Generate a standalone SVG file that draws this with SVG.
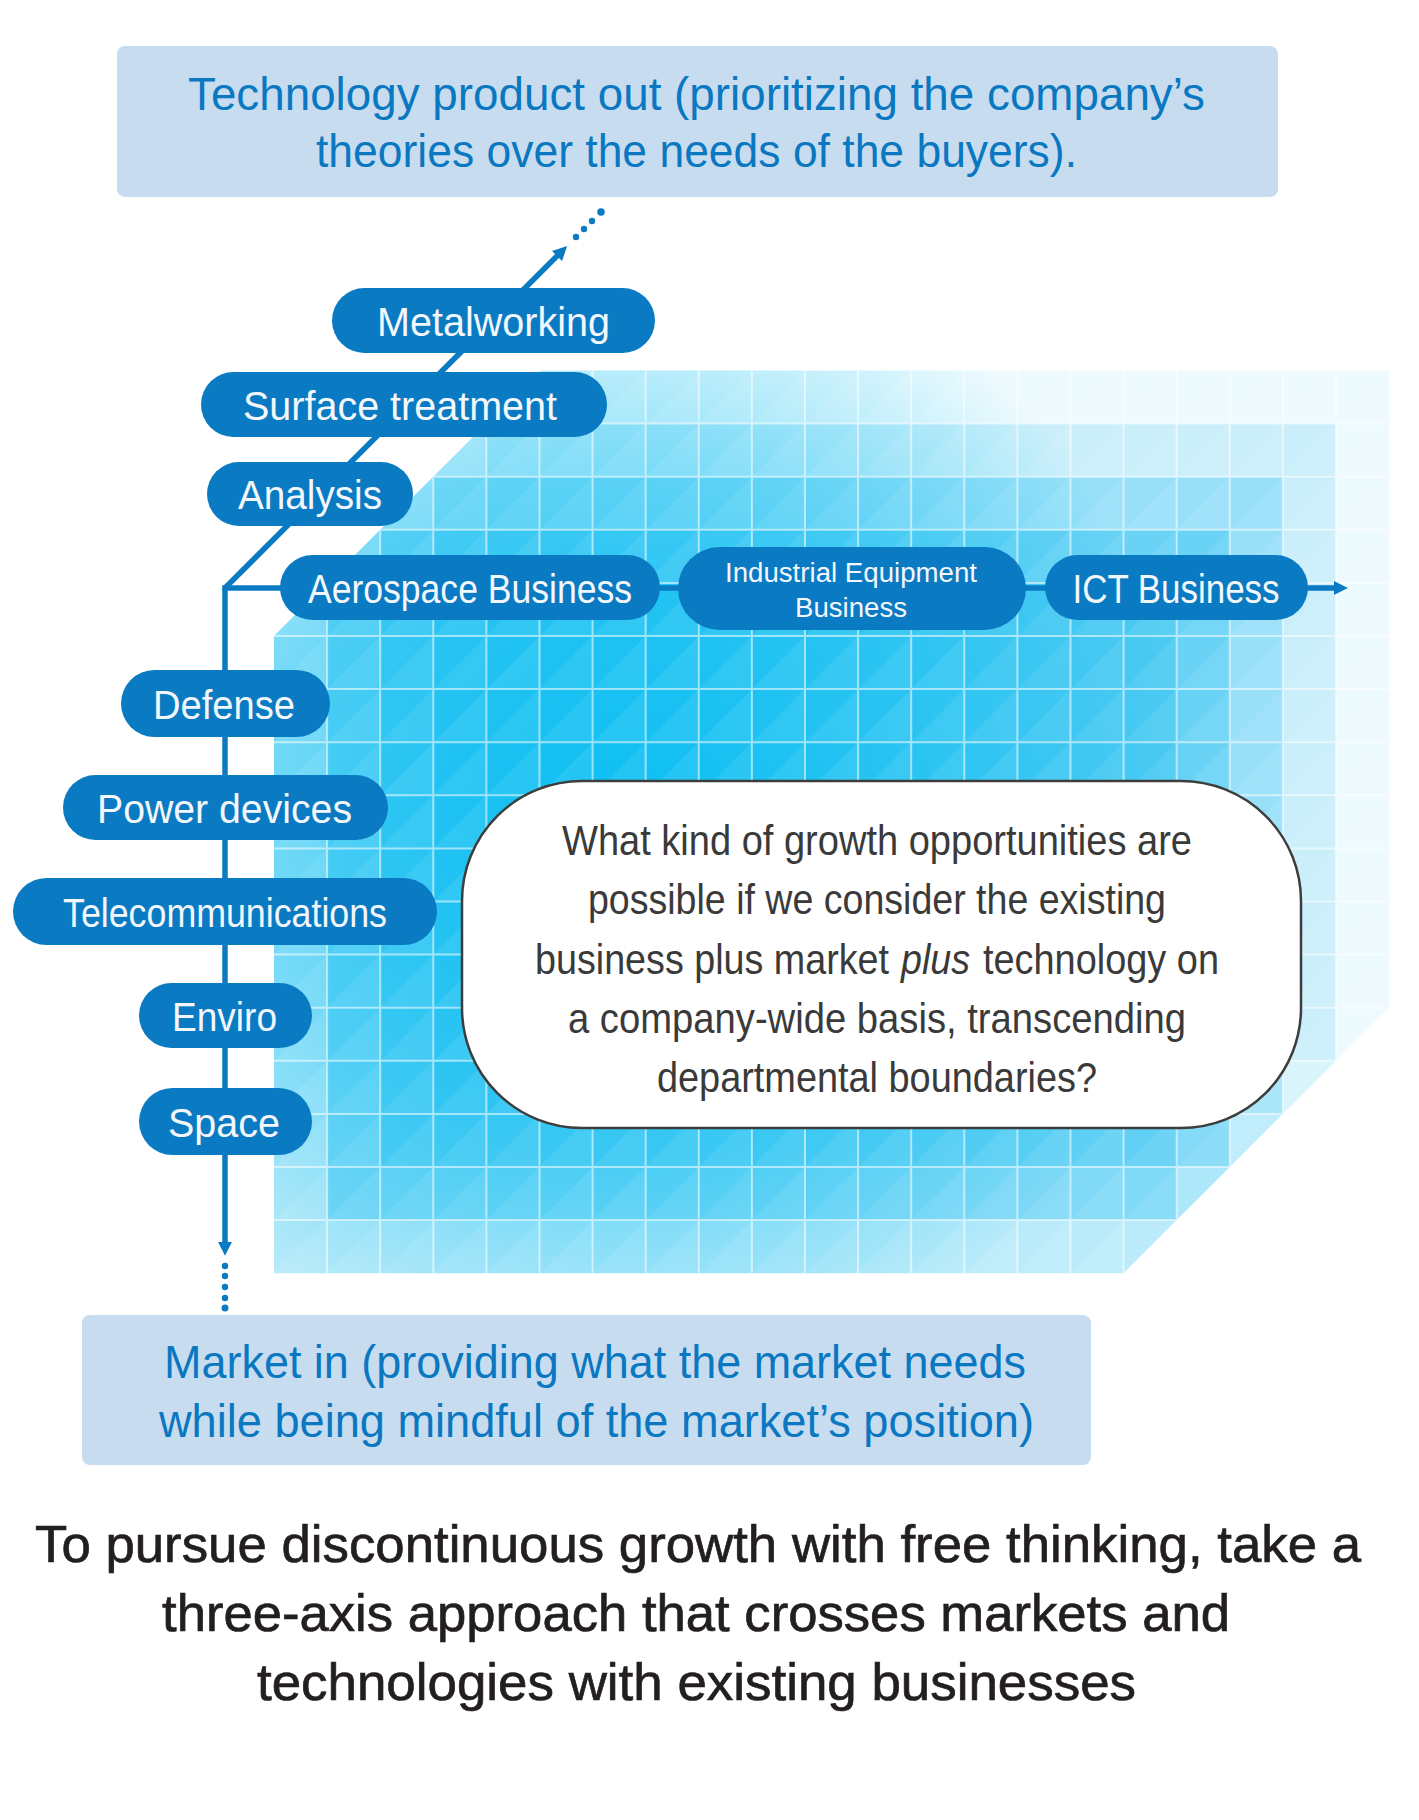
<svg xmlns="http://www.w3.org/2000/svg" width="1419" height="1820" viewBox="0 0 1419 1820">
<defs>
<style>
.pill{fill:#0a7bc3}
.pt{font-family:'Liberation Sans',Arial,sans-serif;font-size:40px;fill:#f3f7fb;text-anchor:middle}
.pts{font-family:'Liberation Sans',Arial,sans-serif;font-size:27px;fill:#f3f7fb;text-anchor:middle}
.ax{stroke:#0a7bc3;stroke-width:5.5;fill:none}
.dot{fill:#0a7bc3}
.box{fill:#c8dcf0}
.bt{font-family:'Liberation Sans',Arial,sans-serif;font-size:47px;fill:#0a78c1;text-anchor:middle}
.qt{font-family:'Liberation Sans',Arial,sans-serif;font-size:38px;fill:#3a3a3a;text-anchor:middle}
.qs{font-family:'Liberation Sans',Arial,sans-serif;font-size:38px;fill:#3a3a3a}
.cap{font-family:'Liberation Sans',Arial,sans-serif;font-size:52.5px;fill:#231f20;stroke:#231f20;stroke-width:0.7;text-anchor:middle}
.hx{fill:#05b5ee}
.gl{stroke:#ffffff;stroke-width:2;stroke-opacity:0.55;fill:none}
</style>
<radialGradient id="glow" cx="620" cy="820" r="580" gradientUnits="userSpaceOnUse">
<stop offset="0" stop-color="#00bdf2" stop-opacity="0.85"/>
<stop offset="0.6" stop-color="#00bdf2" stop-opacity="0.4"/>
<stop offset="1" stop-color="#00bdf2" stop-opacity="0"/>
</radialGradient>
<clipPath id="hull"><polygon points="274,636 539.5,370.5 1389.1,370.5 1389.1,1007.7 1123.6,1273.2 274,1273.2"/></clipPath>
<pattern id="tri" patternUnits="userSpaceOnUse" x="274" y="636" width="53.1" height="53.1"><path d="M53.1,0 L53.1,53.1 L0,53.1Z" fill="#ffffff" fill-opacity="0.08"/></pattern>
<marker id="ah" viewBox="0 0 10 10" refX="1" refY="5" markerWidth="2.6" markerHeight="2.6" orient="auto"><path d="M0,0 L10,5 L0,10Z" fill="#0a7bc3"/></marker>
</defs>
<rect width="1419" height="1820" fill="#ffffff"/>

<g id="grid">
<polygon class="hx" fill-opacity="0.07" points="486.4,423.6 539.5,370.5 1389.1,370.5 1389.1,1007.7 1336,1060.8 486.4,1060.8"/>
<polygon class="hx" fill-opacity="0.15" points="433.3,476.7 486.4,423.6 1336,423.6 1336,1060.8 1282.9,1113.9 433.3,1113.9"/>
<polygon class="hx" fill-opacity="0.25" points="380.2,529.8 433.3,476.7 1282.9,476.7 1282.9,1113.9 1229.8,1167 380.2,1167"/>
<polygon class="hx" fill-opacity="0.32" points="327.1,582.9 380.2,529.8 1229.8,529.8 1229.8,1167 1176.7,1220.1 327.1,1220.1"/>
<polygon class="hx" fill-opacity="0.27" points="274,636 327.1,582.9 1176.7,582.9 1176.7,1220.1 1123.6,1273.2 274,1273.2"/>
<g clip-path="url(#hull)">
<rect x="274" y="370" width="1116" height="904" fill="url(#glow)"/>
<rect x="274" y="370" width="1116" height="904" fill="url(#tri)"/>
<path class="gl" d="M327.1,370V1274M380.2,370V1274M433.3,370V1274M486.4,370V1274M539.5,370V1274M592.6,370V1274M645.7,370V1274M698.8,370V1274M751.9,370V1274M805,370V1274M858.1,370V1274M911.2,370V1274M964.3,370V1274M1017.4,370V1274M1070.5,370V1274M1123.6,370V1274M1176.7,370V1274M1229.8,370V1274M1282.9,370V1274M1336,370V1274M274,423.6H1390M274,476.7H1390M274,529.8H1390M274,582.9H1390M274,636H1390M274,689.1H1390M274,742.2H1390M274,795.3H1390M274,848.4H1390M274,901.5H1390M274,954.6H1390M274,1007.7H1390M274,1060.8H1390M274,1113.9H1390M274,1167H1390M274,1220.1H1390"/>
</g>
</g>

<g id="top-box">
<rect class="box" x="117" y="46" width="1161" height="151" rx="8"/>
<text class="bt" x="696.5" y="110" textLength="1017" lengthAdjust="spacingAndGlyphs">Technology product out (prioritizing the company’s</text>
<text class="bt" x="696.5" y="167" textLength="761" lengthAdjust="spacingAndGlyphs">theories over the needs of the buyers).</text>
</g>

<g id="bottom-box">
<rect class="box" x="82" y="1315" width="1009" height="150" rx="8"/>
<text class="bt" x="595" y="1378" textLength="862" lengthAdjust="spacingAndGlyphs">Market in (providing what the market needs</text>
<text class="bt" x="596.5" y="1437" textLength="875" lengthAdjust="spacingAndGlyphs">while being mindful of the market’s position)</text>
</g>

<g id="connectors">
<path class="ax" d="M225,588 H1335" marker-end="url(#ah)"/>
<path class="ax" d="M225,588 V1243" marker-end="url(#ah)"/>
<path class="ax" d="M225,588 L558,255" marker-end="url(#ah)"/>
<rect class="dot" x="222.25" y="585.25" width="5.5" height="5.5"/>
<circle class="dot" cx="576" cy="237" r="3.2"/>
<circle class="dot" cx="584" cy="229" r="3.2"/>
<circle class="dot" cx="592" cy="221" r="3.2"/>
<circle class="dot" cx="601" cy="212" r="3.8"/>
<circle class="dot" cx="225" cy="1266" r="3.2"/>
<circle class="dot" cx="225" cy="1276" r="3.2"/>
<circle class="dot" cx="225" cy="1287" r="3.2"/>
<circle class="dot" cx="225" cy="1298" r="3.2"/>
<circle class="dot" cx="225" cy="1308" r="3.5"/>
</g>

<g id="node-metalworking"><rect class="pill" x="332" y="288" width="323" height="65" rx="32.5"/><text class="pt" x="493.5" y="336" textLength="233" lengthAdjust="spacingAndGlyphs">Metalworking</text></g>
<g id="node-surface"><rect class="pill" x="201" y="372" width="406" height="65" rx="32.5"/><text class="pt" x="400" y="420" textLength="314" lengthAdjust="spacingAndGlyphs">Surface treatment</text></g>
<g id="node-analysis"><rect class="pill" x="207" y="462" width="206" height="64" rx="32"/><text class="pt" x="310" y="509" textLength="144" lengthAdjust="spacingAndGlyphs">Analysis</text></g>
<g id="node-aerospace"><rect class="pill" x="280" y="555" width="380" height="65" rx="32.5"/><text class="pt" x="470" y="603" textLength="324" lengthAdjust="spacingAndGlyphs">Aerospace Business</text></g>
<g id="node-industrial"><rect class="pill" x="678" y="547" width="348" height="83" rx="41.5"/><text class="pts" x="851" y="582" textLength="252" lengthAdjust="spacingAndGlyphs">Industrial Equipment</text><text class="pts" x="851" y="617" textLength="112" lengthAdjust="spacingAndGlyphs">Business</text></g>
<g id="node-ict"><rect class="pill" x="1045" y="555" width="263" height="65" rx="32.5"/><text class="pt" x="1176" y="603" textLength="207" lengthAdjust="spacingAndGlyphs">ICT Business</text></g>
<g id="node-defense"><rect class="pill" x="121" y="670" width="209" height="67" rx="33.5"/><text class="pt" x="224" y="719" textLength="142" lengthAdjust="spacingAndGlyphs">Defense</text></g>
<g id="node-power"><rect class="pill" x="63" y="775" width="325" height="65" rx="32.5"/><text class="pt" x="224.5" y="823" textLength="255" lengthAdjust="spacingAndGlyphs">Power devices</text></g>
<g id="node-telecom"><rect class="pill" x="13" y="878" width="424" height="67" rx="33.5"/><text class="pt" x="225" y="927" textLength="324" lengthAdjust="spacingAndGlyphs">Telecommunications</text></g>
<g id="node-enviro"><rect class="pill" x="139" y="983" width="173" height="65" rx="32.5"/><text class="pt" x="224.5" y="1031" textLength="105" lengthAdjust="spacingAndGlyphs">Enviro</text></g>
<g id="node-space"><rect class="pill" x="139" y="1088" width="173" height="67" rx="33.5"/><text class="pt" x="224" y="1137" textLength="112" lengthAdjust="spacingAndGlyphs">Space</text></g>

<g id="question-bubble">
<rect x="462" y="781" width="839" height="347" rx="120" fill="#ffffff" stroke="#3d3d3d" stroke-width="2.5"/>
<text class="qt" x="877" y="855" transform="matrix(1,0,0,1.12,0,-102.6)" textLength="630" lengthAdjust="spacingAndGlyphs">What kind of growth opportunities are</text>
<text class="qt" x="877" y="914.5" transform="matrix(1,0,0,1.12,0,-109.74)" textLength="578" lengthAdjust="spacingAndGlyphs">possible if we consider the existing</text>
<text class="qs" x="535" y="974" transform="matrix(1,0,0,1.12,0,-116.88)" textLength="354" lengthAdjust="spacingAndGlyphs">business plus market</text>
<text class="qs" x="901" y="974" transform="matrix(1,0,0,1.12,0,-116.88)" font-style="italic" textLength="69" lengthAdjust="spacingAndGlyphs">plus</text>
<text class="qs" x="983" y="974" transform="matrix(1,0,0,1.12,0,-116.88)" textLength="236" lengthAdjust="spacingAndGlyphs">technology on</text>
<text class="qt" x="877" y="1033" transform="matrix(1,0,0,1.12,0,-123.96)" textLength="618" lengthAdjust="spacingAndGlyphs">a company-wide basis, transcending</text>
<text class="qt" x="877" y="1092" transform="matrix(1,0,0,1.12,0,-131.04)" textLength="440" lengthAdjust="spacingAndGlyphs">departmental boundaries?</text>
</g>

<g id="caption">
<text class="cap" x="698" y="1562" textLength="1326" lengthAdjust="spacingAndGlyphs">To pursue discontinuous growth with free thinking, take a</text>
<text class="cap" x="696" y="1631" textLength="1068" lengthAdjust="spacingAndGlyphs">three-axis approach that crosses markets and</text>
<text class="cap" x="696.5" y="1700" textLength="879" lengthAdjust="spacingAndGlyphs">technologies with existing businesses</text>
</g>
</svg>
